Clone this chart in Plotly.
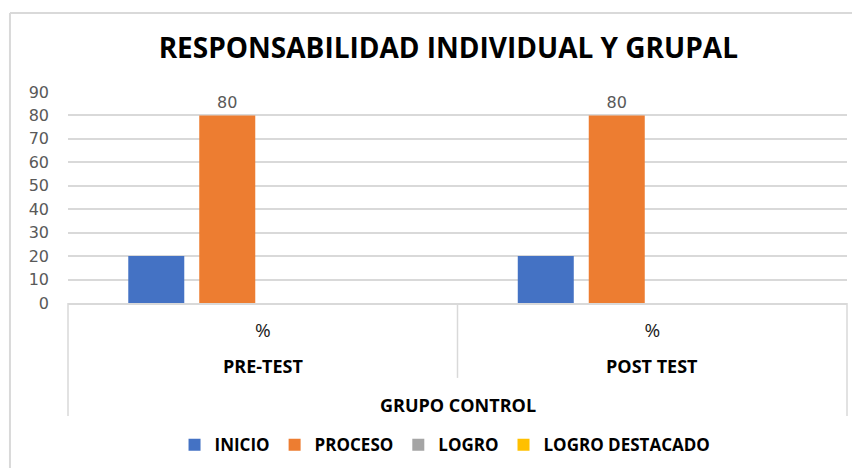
import plotly.graph_objects as go

# data
groups = ["PRE-TEST", "POST TEST"]
unit_labels = ["%", "%"]
outer_label = "GRUPO CONTROL"
series_names = ["INICIO", "PROCESO", "LOGRO", "LOGRO DESTACADO"]
inicio = [20, 20]
proceso = [80, 80]
logro = [0, 0]
logro_destacado = [0, 0]
series_colors = ["#4472C4", "#ED7D31", "#A5A5A5", "#FFC000"]
y_ticks = [0, 10, 20, 30, 40, 50, 60, 70, 80, 90]

TEXT_FONT = "Open Sans, Noto Sans, sans-serif"
NUM_FONT = "DejaVu Sans, Noto Sans, sans-serif"

fig = go.Figure()
for name, vals, color in zip(series_names, [inicio, proceso, logro, logro_destacado], series_colors):
    bar = dict(
        x=groups,
        y=vals,
        name=f"<b>{name}</b>",
        marker=dict(color=color, line=dict(width=0)),
    )
    if name == "PROCESO":
        # only the PROCESO bars carry a data label in the original
        bar.update(text=vals, textposition="outside", cliponaxis=False,
                   textfont=dict(family=NUM_FONT, size=16, color="#595959"))
    fig.add_trace(go.Bar(**bar))

# category-table lines under the plot (Excel multi-level axis look)
line_style = dict(color="#D9D9D9", width=1.5)
fig.add_shape(type="line", xref="paper", yref="paper", x0=0, x1=0, y0=0, y1=-0.536, line=line_style)
fig.add_shape(type="line", xref="paper", yref="paper", x0=0.5, x1=0.5, y0=0, y1=-0.355, line=line_style)
fig.add_shape(type="line", xref="paper", yref="paper", x0=1, x1=1, y0=0, y1=-0.536, line=line_style)
# chart area border (left and top edges visible)
fig.add_shape(type="line", xref="paper", yref="paper", x0=-0.0745, x1=-0.0745, y0=-2, y1=1.374,
              line=dict(color="#D9D9D9", width=2))
fig.add_shape(type="line", xref="paper", yref="paper", x0=-0.0745, x1=1.2, y0=1.374, y1=1.374,
              line=dict(color="#D9D9D9", width=2))

for i, g in enumerate(groups):
    fig.add_annotation(text=f"<b>{g}</b>", xref="paper", yref="paper", x=0.25 + 0.5 * i, y=-0.2986,
                       xanchor="center", yanchor="middle", showarrow=False,
                       font=dict(family=TEXT_FONT, size=18, color="#000000"))
fig.add_annotation(text=f"<b>{outer_label}</b>", xref="paper", yref="paper", x=0.5, y=-0.483,
                   xanchor="center", yanchor="middle", showarrow=False,
                   font=dict(family=TEXT_FONT, size=18, color="#000000"))

# the page body adds an 8px offset, so margins are shifted by 8px
fig.update_layout(
    width=860, height=468,
    margin=dict(l=60, r=21, t=84, b=173, autoexpand=False),
    paper_bgcolor="white", plot_bgcolor="white",
    title=dict(text="<b>RESPONSABILIDAD INDIVIDUAL Y GRUPAL</b>", x=0.512, xanchor="center",
               y=0.9145, yanchor="middle", font=dict(family=TEXT_FONT, size=28, color="#000000")),
    barmode="group", bargap=0.271, bargroupgap=0.211,
    showlegend=True,
    legend=dict(orientation="h", x=0.484, xanchor="center", yref="container", y=0.066, yanchor="middle",
                font=dict(family=TEXT_FONT, size=17, color="#000000"), itemwidth=30,
                traceorder="normal"),
    xaxis=dict(tickvals=groups, ticktext=unit_labels, ticks="", showgrid=False, automargin=False,
               showline=True, linecolor="#D9D9D9", linewidth=1.5,
               tickfont=dict(family=TEXT_FONT, size=19, color="#1a1a1a"), ticklabelstandoff=9),
    yaxis=dict(range=[0, 90], tickvals=y_ticks, showgrid=True, gridcolor="#D9D9D9", gridwidth=1.5,
               zeroline=False, ticks="", ticklabelstandoff=18, automargin=False,
               tickfont=dict(family=NUM_FONT, size=16, color="#595959")),
)

fig.write_html("out.html")
